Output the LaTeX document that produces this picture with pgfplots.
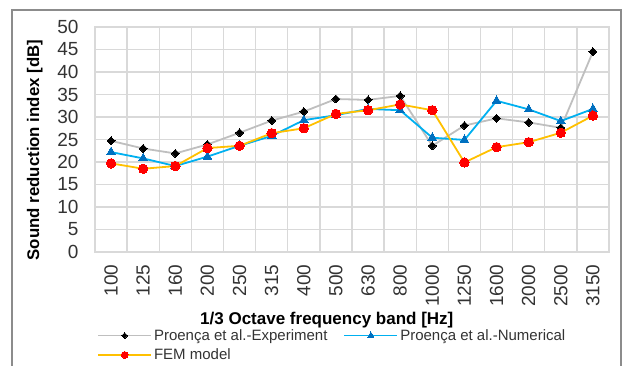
\documentclass[border=0pt]{standalone}
\usepackage{pgfplots}
\pgfplotsset{compat=1.18}
\usepackage{fontspec}
\setmainfont{Liberation Sans}
\definecolor{expline}{HTML}{BFBFBF}
\definecolor{numline}{HTML}{00B0F0}
\definecolor{nummark}{HTML}{0070C0}
\definecolor{femline}{HTML}{FFC000}
\definecolor{femmark}{HTML}{FF0000}
\definecolor{gridc}{HTML}{D9D9D9}
\begin{document}
\begin{tikzpicture}
\begin{axis}[
  scale only axis, width=514pt, height=225pt,
  at={(0,0)}, anchor=south west,
  xmin=-0.5, xmax=15.5, ymin=0, ymax=50,
  xtick={0,...,15},
  xticklabels={100,125,160,200,250,315,400,500,630,800,1000,1250,1600,2000,2500,3150},
  minor xtick={-0.5,0.5,1.5,2.5,3.5,4.5,5.5,6.5,7.5,8.5,9.5,10.5,11.5,12.5,13.5,14.5,15.5},
  ytick={0,5,...,50},
  xmajorgrids=false, xminorgrids=true, ymajorgrids=true,
  grid style={draw=gridc, line width=1.3pt},
  minor grid style={draw=gridc, line width=1.3pt},
  axis line style={draw=gridc, line width=1.3pt},
  major tick length=0pt, minor tick length=0pt,
  /pgf/number format/assume math mode=true,
  tick label style={font=\fontsize{19}{19}\selectfont, text=black!80},
  xticklabel style={rotate=90, anchor=east},
  xticklabel shift=9pt,
  yticklabel style={anchor=east},
  yticklabel shift=13pt,
  xlabel={\textbf{1/3 Octave frequency band [Hz]}},
  ylabel={\textbf{Sound reduction index [dB]}},
  xlabel style={font=\fontsize{17}{17}\selectfont, at={(axis description cs:0.451,-0.303)}, anchor=center},
  ylabel style={font=\fontsize{16.8}{16.8}\selectfont, at={(axis description cs:-0.117,0.453)}, anchor=center},
  legend columns=2,
  legend cell align=left,
  legend style={at={(axis description cs:0.004,-0.334)}, anchor=north west,
    draw=none, fill=none, font=\fontsize{15}{15}\selectfont, text=black!80,
    /tikz/every even column/.append style={column sep=14pt},
    row sep=3pt, inner sep=0pt},
  legend image code/.code={\draw[mark repeat=2,mark phase=2,#1,every mark/.append style={scale=0.72}] plot coordinates {(0pt,0pt) (26.5pt,0pt) (53pt,0pt)};},
  clip=false,
]
\addplot[color=expline, line width=1.8pt, mark=square*, mark size=2.8pt,
  mark options={rotate=45, fill=black, draw=black, line width=0pt}]
  coordinates {(0,24.7) (1,23.0) (2,21.9) (3,23.9) (4,26.5) (5,29.2) (6,31.2) (7,34.0)
  (8,33.8) (9,34.7) (10,23.6) (11,28.1) (12,29.7) (13,28.8) (14,27.6) (15,44.5)};
\addlegendentry{Proença et al.-Experiment}
\addplot[color=numline, line width=1.8pt, mark=triangle*, mark size=5pt,
  mark options={fill=nummark, draw=nummark, line width=0pt}]
  coordinates {(0,22.2) (1,20.8) (2,19.1) (3,21.2) (4,23.6) (5,25.8) (6,29.3) (7,30.4)
  (8,31.8) (9,31.5) (10,25.4) (11,24.9) (12,33.6) (13,31.7) (14,29.1) (15,31.8)};
\addlegendentry{Proença et al.-Numerical}
\addplot[color=femline, line width=1.8pt, mark=*, mark size=4.7pt,
  mark options={fill=femmark, draw=femmark, line width=0pt}]
  coordinates {(0,19.7) (1,18.5) (2,19.1) (3,23.1) (4,23.6) (5,26.4) (6,27.5) (7,30.7)
  (8,31.5) (9,32.8) (10,31.5) (11,19.9) (12,23.3) (13,24.4) (14,26.5) (15,30.3)};
\addlegendentry{FEM model}
\end{axis}
\useasboundingbox (-95pt,-113pt) rectangle (529pt,252pt);
\draw[draw=black!45, line width=1.3pt] (-83pt,-114pt) -- (-83pt,242pt) -- (526pt,242pt) -- (526pt,-114pt);
\end{tikzpicture}
\end{document}
